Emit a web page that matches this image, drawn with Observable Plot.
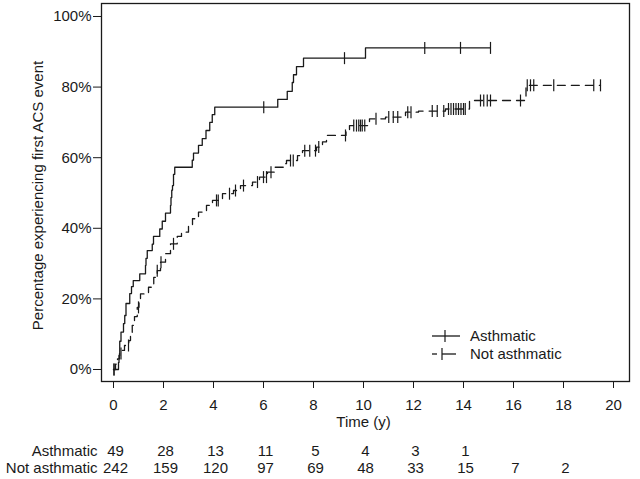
<!DOCTYPE html>
<html><head><meta charset="utf-8">
<script src="https://cdn.jsdelivr.net/npm/d3@7"></script>
<script src="https://cdn.jsdelivr.net/npm/@observablehq/plot@0.6"></script>
<style>
body{margin:0;background:#fff;}
#chart svg{display:block;}
</style></head><body><div id="chart"></div>
<script>
// Asthmatic: cumulative incidence (%) after each event time (years)
const asthTime = [0, 0.2, 0.22, 0.25, 0.3, 0.4, 0.45, 0.5, 0.65, 0.72, 0.79, 1.05, 1.28, 1.3, 1.35, 1.55, 1.6, 1.85, 1.95, 2.08, 2.28, 2.3, 2.33, 2.36, 2.4, 2.45, 3.15, 3.2, 3.4, 3.55, 3.7, 3.85, 3.95, 4.05, 6.57, 6.95, 7.15, 7.2, 7.32, 7.6, 10.08, 15.08];
const asthPct  = [0, 2, 4, 8, 10.6, 13, 15.3, 18.7, 21.5, 23.5, 25.2, 27.1, 29.5, 31.5, 33.7, 35.5, 37.7, 39.8, 42, 44.3, 46.5, 48.7, 50.8, 52.1, 55.3, 57.3, 59.3, 61.3, 63.5, 65.4, 67.7, 70, 72.2, 74.3, 76.5, 78.8, 81.3, 83.5, 85.8, 88.2, 91.1, 91.1];
const asthCensor = [0.02, 6.01, 9.24, 12.45, 13.88, 15.08];

// Not asthmatic
const notTime = [0, 0.08, 0.16, 0.24, 0.35, 0.44, 0.61, 0.68, 0.75, 0.84, 0.95, 1.02, 1.08, 1.4, 1.61, 1.75, 1.88, 2.08, 2.28, 2.55, 2.72, 3.0, 3.16, 3.4, 3.72, 3.96, 4.36, 4.8, 5.08, 5.56, 5.84, 6.16, 6.44, 6.8, 6.92, 7.36, 7.56, 8.12, 8.36, 8.52, 9.3, 9.44, 10.24, 10.88, 11.68, 12.2, 13.28, 14.24, 16.5, 19.48];
const notPct  = [0, 1.5, 3, 4.5, 5.4, 6.8, 8.2, 10.5, 12.5, 15, 17.6, 19.5, 21.4, 23.3, 26.1, 28, 30.4, 32.8, 35.6, 37.7, 38.9, 40.8, 42.7, 44.6, 46.5, 47.9, 49.8, 50.7, 52.1, 53.1, 54.5, 55.9, 57.3, 58.3, 59.2, 60.6, 62, 63, 64.5, 66.3, 67.5, 69.1, 71, 71.5, 72.9, 73.2, 73.8, 76.2, 80.5, 80.5];
const notCensor = [0.02, 0.3, 0.6, 1.0, 1.75, 1.9, 2.4, 4.12, 4.19, 4.64, 4.88, 5.2, 5.76, 6.0, 6.12, 6.3, 7.08, 7.19, 7.65, 7.85, 8.08, 8.21, 9.28, 9.61, 9.72, 9.81, 9.88, 9.95, 10.05, 10.5, 11.01, 11.19, 11.37, 11.77, 11.9, 12.75, 12.95, 13.21, 13.4, 13.5, 13.6, 13.7, 13.8, 13.9, 14.0, 14.07, 14.68, 14.81, 14.95, 15.08, 16.28, 16.55, 16.68, 16.81, 17.61, 19.21, 19.48];

// Axes and risk table
const xTicks = [0, 2, 4, 6, 8, 10, 12, 14, 16, 18, 20];
const yTicks = [0, 20, 40, 60, 80, 100];
const riskTimes = [0, 2, 4, 6, 8, 10, 12, 14, 16, 18];
const asthRisk = [49, 28, 13, 11, 5, 4, 3, 1];
const notRisk = [242, 159, 120, 97, 69, 48, 33, 15, 7, 2];
const groups = ["Asthmatic", "Not asthmatic"];

const FONT = "'Liberation Sans', Arial, sans-serif";
const INK = "#1a1a1a";

const toRows = (ts, ps) => ts.map((t, i) => ({t, p: ps[i]}));
const stepAt = (ts, ps) => t => { const i = d3.bisectRight(ts, t) - 1; return ps[Math.max(0, i)]; };
const asthRows = toRows(asthTime, asthPct);
const notRows = toRows(notTime, notPct);
const fa = stepAt(asthTime, asthPct), fn = stepAt(notTime, notPct);
const asthC = asthCensor.map(t => ({t, p: fa(t)}));
const notC = notCensor.map(t => ({t, p: fn(t)}));

const vbar = {draw(ctx) { ctx.moveTo(0, -6); ctx.lineTo(0, 6); }};

const plot = Plot.plot({
  width: 640, height: 479,
  marginLeft: 101, marginRight: 11, marginTop: 3, marginBottom: 98,
  style: {fontFamily: FONT, fontSize: "15px", color: INK, background: "white", overflow: "visible"},
  x: {domain: [-0.48, 20.64], ticks: xTicks, tickSize: 7, tickPadding: 11, tickFormat: d => String(d), label: null},
  y: {domain: [-3.4, 103.68], ticks: yTicks, tickSize: 8, tickPadding: 2, tickFormat: d => d + "%", label: null},
  marks: [
    Plot.frame({stroke: INK, strokeWidth: 1.3}),
    Plot.line(asthRows, {x: "t", y: "p", curve: "step-after", stroke: INK, strokeWidth: 1.3}),
    Plot.line(notRows, {x: "t", y: "p", curve: "step-after", stroke: INK, strokeWidth: 1.3, strokeDasharray: "8,6"}),
    Plot.dot(asthC, {x: "t", y: "p", symbol: vbar, stroke: INK, strokeWidth: 1.2, fill: "none"}),
    Plot.dot(notC, {x: "t", y: "p", symbol: vbar, stroke: INK, strokeWidth: 1.2, fill: "none"}),
    Plot.text(["Time (y)"], {frameAnchor: "bottom", textAnchor: "middle", dx: -2, dy: 45, fontSize: 15, fill: INK}),
    Plot.text(["Percentage experiencing first ACS event"], {frameAnchor: "left", textAnchor: "middle", rotate: -90, dx: -63, dy: 3, fontSize: 15, fill: INK}),
    Plot.text(asthRisk, {x: (d, i) => riskTimes[i], text: d => String(d), frameAnchor: "bottom", textAnchor: "middle", dx: 2, dy: 74, fontSize: 15, fill: INK}),
    Plot.text(notRisk, {x: (d, i) => riskTimes[i], text: d => String(d), frameAnchor: "bottom", textAnchor: "middle", dx: 2, dy: 91, fontSize: 15, fill: INK}),
    Plot.text([groups[0]], {frameAnchor: "bottom-left", textAnchor: "end", dx: -4, dy: 74, fontSize: 15, fill: INK}),
    Plot.text([groups[1]], {frameAnchor: "bottom-left", textAnchor: "end", dx: -4, dy: 91, fontSize: 15, fill: INK})
  ]
});
document.getElementById("chart").appendChild(plot);

// Legend
const svg = d3.select(plot);
const lg = svg.append("g").attr("font-family", FONT).attr("font-size", 15).attr("fill", INK).attr("text-anchor", "start");
lg.append("line").attr("x1", 432).attr("x2", 460).attr("y1", 336).attr("y2", 336).attr("stroke", INK).attr("stroke-width", 1.3);
lg.append("line").attr("x1", 445).attr("x2", 445).attr("y1", 330).attr("y2", 342).attr("stroke", INK).attr("stroke-width", 1.2);
lg.append("line").attr("x1", 432).attr("x2", 437).attr("y1", 354).attr("y2", 354).attr("stroke", INK).attr("stroke-width", 1.3);
lg.append("line").attr("x1", 442).attr("x2", 456).attr("y1", 354).attr("y2", 354).attr("stroke", INK).attr("stroke-width", 1.3);
lg.append("line").attr("x1", 442).attr("x2", 442).attr("y1", 348).attr("y2", 360).attr("stroke", INK).attr("stroke-width", 1.2);
lg.append("text").attr("x", 470).attr("y", 336).attr("dy", "0.35em").attr("text-anchor", "start").text("Asthmatic");
lg.append("text").attr("x", 470).attr("y", 354).attr("dy", "0.35em").attr("text-anchor", "start").text("Not asthmatic");
</script>
</body></html>
